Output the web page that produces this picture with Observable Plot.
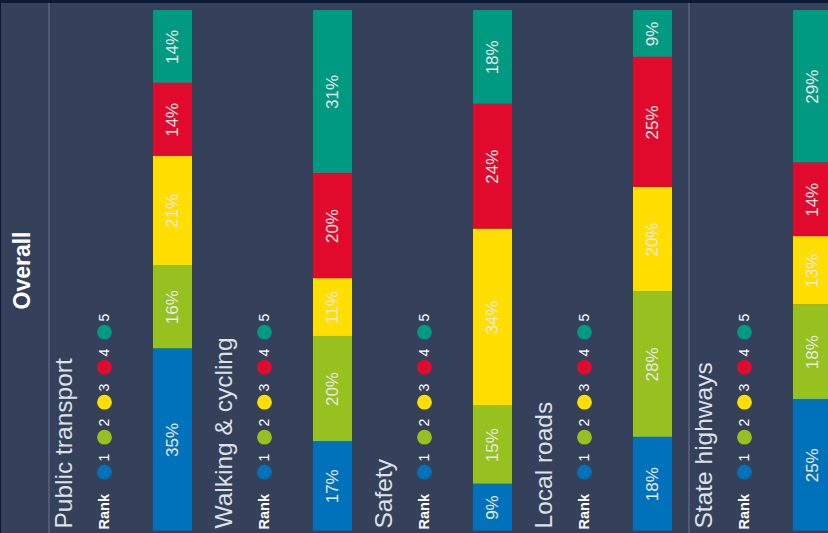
<!DOCTYPE html>
<html>
<head>
<meta charset="utf-8">
<script src="https://cdn.jsdelivr.net/npm/d3@7"></script>
<script src="https://cdn.jsdelivr.net/npm/@observablehq/plot@0.6"></script>
<style>
  html, body { margin: 0; padding: 0; background: #0b1a3b; overflow: hidden; }
  #chart { padding: 3px 0 0 1px; width: 827px; height: 530px; }
  #chart svg { display: block; background: #35405a; }
</style>
</head>
<body>
<div id="chart"></div>
<script>
// ---- data ----
const overallTitle = "Overall";
const legendTitle = "Rank";
const categories = ["Public transport", "Walking & cycling", "Safety", "Local roads", "State highways"];
const ranks = ["1", "2", "3", "4", "5"];
const rank1 = [35, 17, 9, 18, 25];
const rank2 = [16, 20, 15, 28, 18];
const rank3 = [21, 11, 34, 20, 13];
const rank4 = [14, 20, 24, 25, 14];
const rank5 = [14, 31, 18, 9, 29];
const rankColors = ["#0072bc", "#97c11f", "#ffde00", "#e10a2d", "#009a82"];

const series = [rank1, rank2, rank3, rank4, rank5];
const rows = categories.flatMap((c, i) => ranks.map((r, j) => ({category: c, rank: r, value: series[j][i]})));

const font = "Liberation Sans, Arial, sans-serif";
const stack = {x: "category", y: "value", z: "rank", offset: "normalize"};

const legendMarks = ranks.flatMap((r, i) => [
  Plot.dot(categories, {x: d => d, y: 0, fill: () => r, r: 7.4, stroke: null, dx: -68.5, dy: -(58.8 + 35 * i)}),
  Plot.text(categories, {x: d => d, y: 0, text: () => r, rotate: -90, textAnchor: "start", fill: "#ffffff",
    fontSize: 14, fontFamily: font, dx: -68.5, dy: -(69.5 + 35 * i)})
]);

const chart = Plot.plot({
  width: 827,
  height: 530,
  margin: 0,
  style: {background: "#35405a", fontFamily: font, overflow: "hidden"},
  x: {type: "band", domain: categories, range: [152, 834.3], paddingInner: 0.7575, paddingOuter: 0, align: 0, axis: null},
  y: {domain: [0, 1], range: [527.5, 7], axis: null},
  color: {domain: ranks, range: rankColors},
  marks: [
    Plot.ruleX([categories[0], categories[4]], {x: d => d, dx: -124, stroke: "#6d7891", strokeWidth: 1}),
    Plot.text([overallTitle], {frameAnchor: "left", textAnchor: "middle", text: d => d, rotate: -90, dx: 21, dy: 2,
      fill: "#ffffff", fontWeight: "bold", fontSize: 23, fontFamily: font}),
    Plot.barY(rows, Plot.stackY({...stack, fill: "rank", inset: 0})),
    Plot.text(rows, Plot.stackY({...stack, text: d => d.value + "%", rotate: -90,
      fill: "#e8e8e8", fontSize: 17, fontFamily: font})),
    Plot.text(categories, {x: d => d, y: 0, text: d => d, rotate: -90, textAnchor: "start",
      dx: -109, dy: -2.5, fill: "#dde0e6", fontSize: 24.5, fontFamily: font}),
    Plot.text(categories, {x: d => d, y: 0, text: () => legendTitle, rotate: -90, textAnchor: "start",
      dx: -68.5, dy: -1.5, fill: "#ffffff", fontWeight: "bold", fontSize: 14.5, fontFamily: font}),
    ...legendMarks
  ]
});
document.getElementById("chart").append(chart);
</script>
</body>
</html>
